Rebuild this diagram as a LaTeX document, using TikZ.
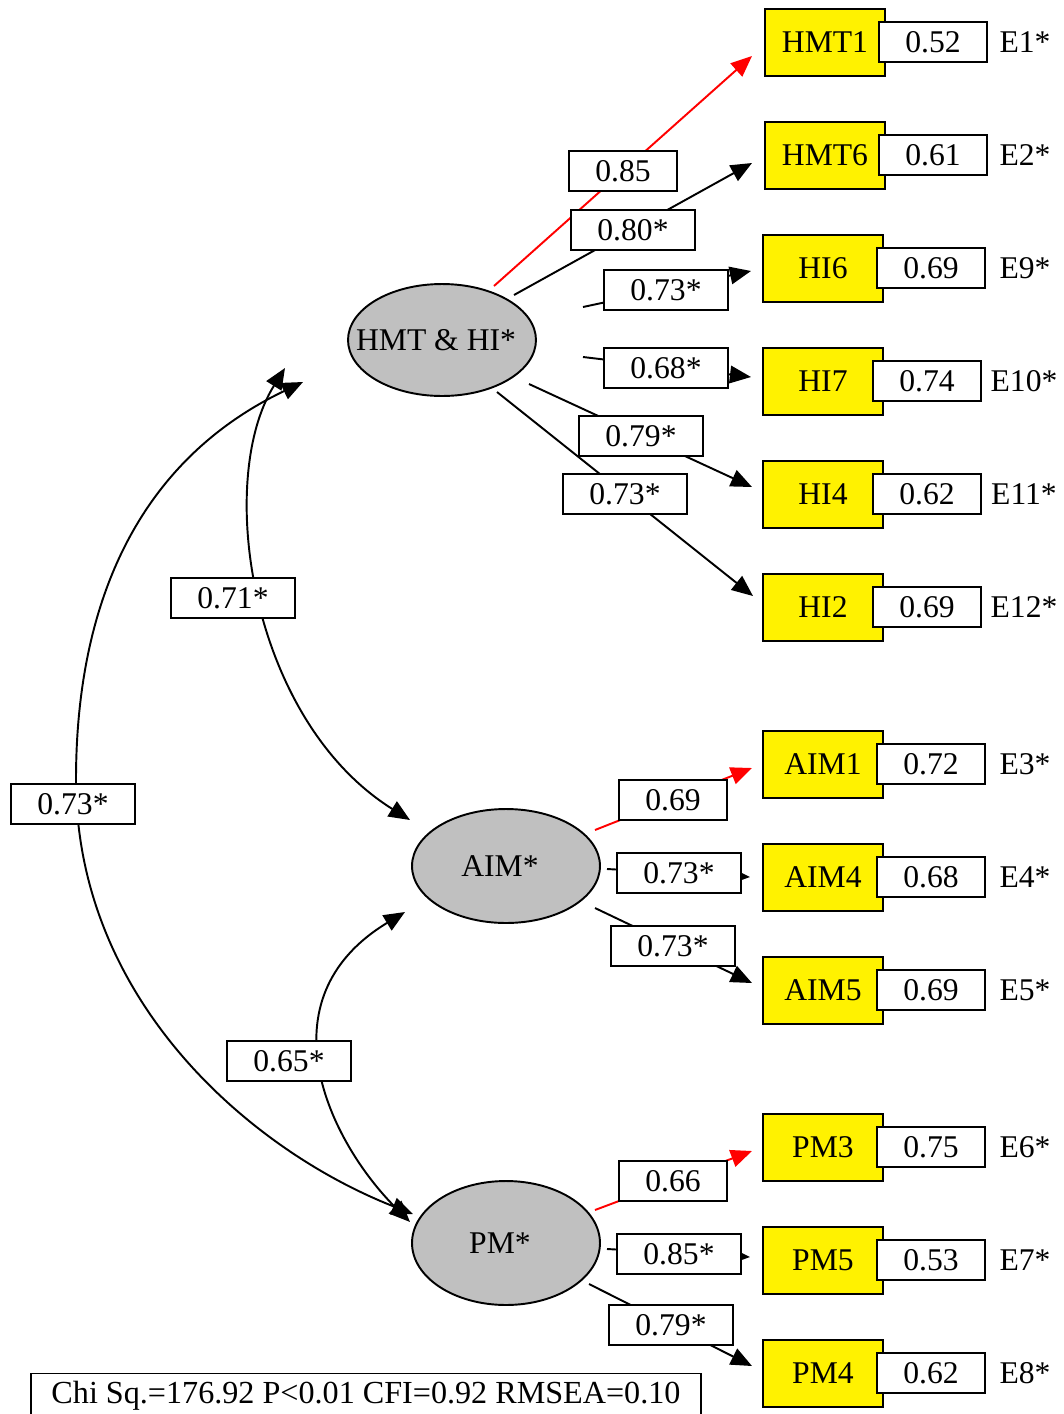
\documentclass[tikz,border=0pt]{standalone}
\usepackage{fontspec}
\setmainfont{Liberation Serif}
\usetikzlibrary{arrows.meta,shapes.geometric}
\definecolor{latgray}{HTML}{C0C0C0}
\begin{document}
\begin{tikzpicture}[x=0.02cm,y=-0.02cm,
  every node/.style={font=\fontsize{18}{20}\selectfont, inner sep=0pt},
  lat/.style={ellipse, draw, fill=latgray, line width=1.1pt, minimum width=3.76cm},
  obs/.style={rectangle, draw, fill=yellow, line width=1.1pt, minimum width=2.4cm, minimum height=1.34cm},
  errbox/.style={rectangle, draw, fill=white, line width=1.1pt, minimum width=2.16cm, minimum height=0.8cm},
  lbl/.style={rectangle, draw, fill=white, line width=1.1pt, minimum width=2.48cm, minimum height=0.8cm},
  lbls/.style={lbl, minimum width=2.16cm},
  conn/.style={line width=1.1pt, -{Triangle[length=12pt,width=10pt]}},
  redconn/.style={conn, red},
  dbl/.style={line width=1.1pt, {Triangle[length=12pt,width=10pt]}-{Triangle[length=12pt,width=10pt]}}
]
\useasboundingbox (0,0) rectangle (1063,1414);

% latent variables
\node[lat, minimum height=2.24cm] (HMT) at (442,340) {};
\node (HMTt) at (436,340) {HMT \& HI*};
\node[lat, minimum height=2.28cm] (AIM) at (506,866) {};
\node (AIMt) at (500,866) {AIM*};
\node[lat, minimum height=2.48cm] (PM) at (506,1243) {};
\node (PMt) at (500,1243) {PM*};

% observed variables
\node[obs] (HMT1) at (825,42.5) {HMT1};
\node[obs] (HMT6) at (825,155.5) {HMT6};
\node[obs] (HI6) at (823,268.5) {HI6};
\node[obs] (HI7) at (823,381.5) {HI7};
\node[obs] (HI4) at (823,494.5) {HI4};
\node[obs] (HI2) at (823,607.5) {HI2};
\node[obs] (AIM1) at (823,764.5) {AIM1};
\node[obs] (AIM4) at (823,877.5) {AIM4};
\node[obs] (AIM5) at (823,990.5) {AIM5};
\node[obs] (PM3) at (823,1147.5) {PM3};
\node[obs] (PM5) at (823,1260.5) {PM5};
\node[obs] (PM4) at (823,1373.5) {PM4};

% error variances
\node[errbox] (v1) at (933,42) {0.52};
\node[errbox] (v2) at (933,155) {0.61};
\node[errbox] (v9) at (931,268) {0.69};
\node[errbox] (v10) at (927,381) {0.74};
\node[errbox] (v11) at (927,494) {0.62};
\node[errbox] (v12) at (927,607) {0.69};
\node[errbox] (v3) at (931,764) {0.72};
\node[errbox] (v4) at (931,877) {0.68};
\node[errbox] (v5) at (931,990) {0.69};
\node[errbox] (v6) at (931,1147) {0.75};
\node[errbox] (v7) at (931,1260) {0.53};
\node[errbox] (v8) at (931,1373) {0.62};

% error labels
\node (e1) at (1025,42) {E1*};
\node (e2) at (1025,155) {E2*};
\node (e9) at (1025,268) {E9*};
\node (e10) at (1024,381) {E10*};
\node (e11) at (1024,494) {E11*};
\node (e12) at (1024,607) {E12*};
\node (e3) at (1025,764) {E3*};
\node (e4) at (1025,877) {E4*};
\node (e5) at (1025,990) {E5*};
\node (e6) at (1025,1147) {E6*};
\node (e7) at (1025,1260) {E7*};
\node (e8) at (1025,1373) {E8*};

% connector end points
\coordinate (s1) at (494,286);  \coordinate (t1) at (752,56);
\coordinate (s2) at (514,295);  \coordinate (t2) at (752,163);
\coordinate (s3) at (583,307);  \coordinate (t3) at (751,271);
\coordinate (s4) at (583,357);  \coordinate (t4) at (751,377);
\coordinate (s5) at (529,384);  \coordinate (t5) at (752,487);
\coordinate (s6) at (497,392);  \coordinate (t6) at (753,596);
\coordinate (s7) at (595,830);  \coordinate (t7) at (752,768);
\coordinate (s8) at (607,869);  \coordinate (t8) at (750,877);
\coordinate (s9) at (595,908);  \coordinate (t9) at (752,983);
\coordinate (s10) at (595,1210); \coordinate (t10) at (752,1151);
\coordinate (s11) at (607,1249); \coordinate (t11) at (750,1257);
\coordinate (s12) at (589,1284); \coordinate (t12) at (752,1366);

\draw[redconn] (s1) -- (t1);
\draw[conn] (s2) -- (t2);
\draw[conn] (s3) -- (t3);
\draw[conn] (s4) -- (t4);
\draw[conn] (s5) -- (t5);
\draw[conn] (s6) -- (t6);
\draw[redconn] (s7) -- (t7);
\draw[conn] (s8) -- (t8);
\draw[conn] (s9) -- (t9);
\draw[redconn] (s10) -- (t10);
\draw[conn] (s11) -- (t11);
\draw[conn] (s12) -- (t12);

% covariances
\coordinate (ca1) at (285,368);  \coordinate (ca2) at (410,820);
\coordinate (cb1) at (303,382);  \coordinate (cbm) at (76,780); \coordinate (cb2) at (413,1214);
\coordinate (cc1) at (405,912);  \coordinate (cc2) at (410,1222);
\draw[dbl] (ca1) .. controls (215,480) and (250,720) .. (ca2);
\draw[dbl] (cb1) .. controls (140,460) and (76,600) .. (cbm) .. controls (76,1000) and (250,1150) .. (cb2);
\draw[dbl] (cc1) .. controls (260,1000) and (330,1142) .. (cc2);

% path labels
\node[lbls] (l1) at (623,171) {0.85};
\node[lbl] (l2) at (633,230) {0.80*};
\node[lbl] (l3) at (666,290) {0.73*};
\node[lbl] (l4) at (666,368) {0.68*};
\node[lbl] (l5) at (641,436) {0.79*};
\node[lbl] (l6) at (625,494) {0.73*};
\node[lbl] (l7) at (233,598) {0.71*};
\node[lbl] (l8) at (73,804) {0.73*};
\node[lbls] (l9) at (673,800) {0.69};
\node[lbl] (l10) at (679,873) {0.73*};
\node[lbl] (l11) at (673,946) {0.73*};
\node[lbl] (l12) at (289,1061) {0.65*};
\node[lbls] (l13) at (673,1181) {0.66};
\node[lbl] (l14) at (679,1254) {0.85*};
\node[lbl] (l15) at (671,1325) {0.79*};

% fit statistics
\node[rectangle, draw, line width=1.1pt, minimum width=13.4cm, minimum height=0.9cm,
  font=\fontsize{18.3}{20}\selectfont] (fit) at (366,1396) {Chi Sq.=176.92 P<0.01 CFI=0.92 RMSEA=0.10};
\end{tikzpicture}
\end{document}
